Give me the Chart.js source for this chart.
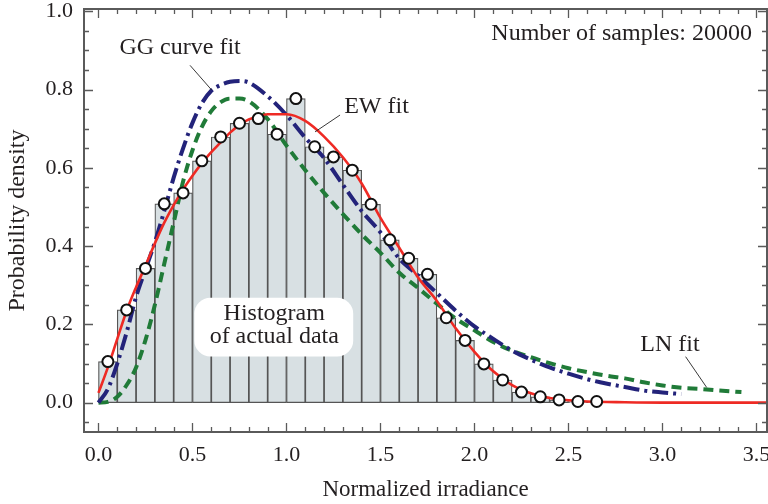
<!DOCTYPE html>
<html>
<head>
<meta charset="utf-8">
<script src="https://cdn.jsdelivr.net/npm/chart.js@4.4.0/dist/chart.umd.min.js"></script>
<style>
  html, body { margin: 0; padding: 0; background: #fff; }
</style>
</head>
<body>
<canvas id="irrChart" width="768" height="504"></canvas>
<script>
// histogram bins (centres) and heights
const binCenters = [0.05, 0.15, 0.25, 0.35, 0.45, 0.55, 0.65, 0.75, 0.85, 0.95,
  1.05, 1.15, 1.25, 1.35, 1.45, 1.55, 1.65, 1.75, 1.85, 1.95,
  2.05, 2.15, 2.25, 2.35, 2.45, 2.55, 2.65];
const binHeights = [0.105, 0.237, 0.343, 0.508, 0.536, 0.618, 0.679, 0.714, 0.726, 0.686,
  0.777, 0.654, 0.628, 0.594, 0.507, 0.416, 0.369, 0.328, 0.217, 0.159,
  0.099, 0.058, 0.027, 0.015, 0.007, 0.003, 0.003];

// EW fit (red)
const ewX = [0, 0.05, 0.1, 0.15, 0.2, 0.25, 0.3, 0.35, 0.4, 0.45, 0.5, 0.55, 0.6, 0.65, 0.7, 0.75, 0.8, 0.85, 0.9,
  1.0, 1.1, 1.2, 1.3, 1.4, 1.5, 1.6, 1.7, 1.8, 1.9, 2.0, 2.1, 2.2, 2.3, 2.4, 2.5, 2.6, 2.8, 3.0, 3.3, 3.56];
const ewY = [0.025, 0.09, 0.163, 0.235, 0.295, 0.35, 0.407, 0.46, 0.505, 0.545, 0.58, 0.612, 0.64, 0.665, 0.69, 0.71, 0.724, 0.732, 0.737,
  0.737, 0.72, 0.68, 0.627, 0.56, 0.472, 0.396, 0.32, 0.26, 0.19, 0.13, 0.08, 0.045, 0.024, 0.012, 0.006, 0.003, 0.001, 0, 0, 0];

// GG curve fit (navy)
const ggX = [0, 0.05, 0.1, 0.15, 0.2, 0.25, 0.3, 0.35, 0.4, 0.45, 0.5, 0.55, 0.6, 0.65, 0.7, 0.75, 0.8, 0.9,
  1.0, 1.1, 1.2, 1.3, 1.4, 1.5, 1.6, 1.7, 1.8, 1.9, 2.0, 2.1, 2.2, 2.3, 2.4, 2.5, 2.6, 2.7, 2.8, 2.9, 3.0, 3.1];
const ggY = [0, 0.035, 0.1, 0.18, 0.27, 0.34, 0.41, 0.49, 0.575, 0.65, 0.715, 0.765, 0.797, 0.812, 0.82, 0.822, 0.818, 0.783,
  0.735, 0.677, 0.625, 0.557, 0.49, 0.435, 0.368, 0.325, 0.28, 0.235, 0.195, 0.163, 0.133, 0.11, 0.09, 0.074, 0.06, 0.049, 0.04, 0.031, 0.026, 0.022];

// LN fit (green)
const lnX = [0, 0.05, 0.1, 0.15, 0.2, 0.25, 0.3, 0.35, 0.4, 0.45, 0.5, 0.55, 0.6, 0.65, 0.7, 0.75, 0.8, 0.9,
  1.0, 1.1, 1.2, 1.3, 1.4, 1.5, 1.6, 1.7, 1.8, 1.9, 2.0, 2.1, 2.2, 2.3, 2.4, 2.5, 2.6, 2.7, 2.8, 2.9, 3.0, 3.1, 3.2, 3.3, 3.42];
const lnY = [0, 0.002, 0.015, 0.045, 0.09, 0.16, 0.25, 0.355, 0.46, 0.565, 0.645, 0.705, 0.745, 0.768, 0.777, 0.777, 0.77, 0.725,
  0.657, 0.594, 0.536, 0.482, 0.43, 0.383, 0.332, 0.293, 0.253, 0.215, 0.185, 0.155, 0.133, 0.116, 0.101, 0.088, 0.078, 0.069, 0.062, 0.052, 0.044, 0.038, 0.035, 0.031, 0.027];

const xTickVals = [0, 0.5, 1.0, 1.5, 2.0, 2.5, 3.0, 3.5];
const yTickVals = [0, 0.2, 0.4, 0.6, 0.8, 1.0];

const serif = "'Liberation Serif', 'DejaVu Serif', serif";
const textColor = "#231f20";

const toPts = (xs, ys) => xs.map((x, i) => ({ x: x, y: ys[i] }));

// frame, inward ticks and the text notes
const framePlugin = {
  id: "frame",
  afterDatasetsDraw(chart) {
    const { ctx, chartArea: a, scales } = chart;
    const x = scales.x, y = scales.y;
    ctx.save();

    // white note box
    const bx0 = x.getPixelForValue(0.51), bx1 = x.getPixelForValue(1.355);
    const by0 = y.getPixelForValue(0.268), by1 = y.getPixelForValue(0.118);
    ctx.fillStyle = "#ffffff";
    ctx.beginPath();
    ctx.roundRect(bx0, by0, bx1 - bx0, by1 - by0, 16);
    ctx.fill();

    ctx.fillStyle = textColor;
    ctx.font = "24px " + serif;
    ctx.textAlign = "center";
    ctx.textBaseline = "middle";
    ctx.fillText("Histogram", x.getPixelForValue(0.935), y.getPixelForValue(0.228));
    ctx.fillText("of actual data", x.getPixelForValue(0.935), y.getPixelForValue(0.168));
    ctx.fillText("GG curve fit", x.getPixelForValue(0.434), y.getPixelForValue(0.906));
    ctx.fillText("EW fit", x.getPixelForValue(1.479), y.getPixelForValue(0.756));
    ctx.fillText("LN fit", x.getPixelForValue(3.04), y.getPixelForValue(0.147));
    ctx.textAlign = "right";
    ctx.fillText("Number of samples: 20000", x.getPixelForValue(3.476), y.getPixelForValue(0.944));

    // leader lines
    ctx.strokeStyle = "#222";
    ctx.lineWidth = 0.9;
    const leaders = [
      [0.487, 0.862, 0.602, 0.799],
      [1.285, 0.735, 1.152, 0.692],
      [3.123, 0.1175, 3.235, 0.039]
    ];
    leaders.forEach((l) => {
      ctx.beginPath();
      ctx.moveTo(x.getPixelForValue(l[0]), y.getPixelForValue(l[1]));
      ctx.lineTo(x.getPixelForValue(l[2]), y.getPixelForValue(l[3]));
      ctx.stroke();
    });

    // ticks
    ctx.strokeStyle = "#5a5a5a";
    ctx.lineWidth = 1.3;
    ctx.beginPath();
    for (let i = 0; i <= 35; i++) {
      const px = Math.round(x.getPixelForValue(i / 10)) + 0.5;
      const len = i % 5 === 0 ? 9 : 5;
      ctx.moveTo(px, a.bottom); ctx.lineTo(px, a.bottom - len);
      ctx.moveTo(px, a.top); ctx.lineTo(px, a.top + len);
    }
    for (let j = -1; j <= 20; j++) {
      const py = Math.round(y.getPixelForValue(j / 20)) + 0.5;
      const len = j % 4 === 0 ? 9 : 5;
      ctx.moveTo(a.left, py); ctx.lineTo(a.left + len, py);
      ctx.moveTo(a.right, py); ctx.lineTo(a.right - len, py);
    }
    ctx.stroke();

    ctx.lineWidth = 2;
    ctx.strokeRect(a.left, a.top, a.right - a.left, a.bottom - a.top);
    ctx.restore();
  }
};

const ctx = document.getElementById("irrChart").getContext("2d");

window.irrChart = new Chart(ctx, {
  type: "line",
  data: {
    datasets: [
      {
        type: "scatter",
        label: "Histogram points",
        data: toPts(binCenters, binHeights),
        pointRadius: 5.5,
        pointBackgroundColor: "#ffffff",
        pointBorderColor: "#111111",
        pointBorderWidth: 2,
        showLine: false,
        order: 0,
      },
      {
        label: "EW fit",
        data: toPts(ewX, ewY),
        borderColor: "#ee2a24",
        borderWidth: 2.6,
        pointRadius: 0,
        cubicInterpolationMode: "monotone",
        fill: false,
        order: 1,
      },
      {
        label: "GG curve fit",
        data: toPts(ggX, ggY),
        borderColor: "#23237a",
        borderWidth: 4,
        borderDash: [16, 5, 3, 5],
        pointRadius: 0,
        cubicInterpolationMode: "monotone",
        fill: false,
        order: 2,
      },
      {
        label: "LN fit",
        data: toPts(lnX, lnY),
        borderColor: "#207b38",
        borderWidth: 4,
        borderDash: [10, 6],
        pointRadius: 0,
        cubicInterpolationMode: "monotone",
        fill: false,
        order: 3,
      },
      {
        type: "bar",
        label: "Histogram",
        data: toPts(binCenters, binHeights),
        backgroundColor: "#d8e0e3",
        borderColor: "#555555",
        borderWidth: 1.2,
        borderSkipped: false,
        barPercentage: 1,
        categoryPercentage: 1,
        order: 4,
      },
    ],
  },
  options: {
    responsive: false,
    animation: false,
    layout: { padding: { top: 9, right: 1, left: 0, bottom: 0 }, autoPadding: false },
    plugins: {
      legend: { display: false },
      tooltip: { enabled: false },
    },
    scales: {
      x: {
        type: "linear",
        min: -0.077,
        max: 3.556,
        offset: false,
        afterBuildTicks: (s) => { s.ticks = xTickVals.map((v) => ({ value: v })); },
        afterFit: (s) => { s.height = 72; s.paddingLeft = 0; s.paddingRight = 0; },
        grid: { display: false, drawTicks: false },
        border: { display: false },
        ticks: {
          callback: (v) => Number(v).toFixed(1),
          font: { family: serif, size: 22 },
          color: textColor,
          padding: 10,
          maxRotation: 0,
          autoSkip: false,
        },
        title: {
          display: true,
          text: "Normalized irradiance",
          font: { family: serif, size: 23 },
          color: textColor,
          padding: 0,
        },
      },
      y: {
        type: "linear",
        min: -0.075,
        max: 1.006,
        afterBuildTicks: (s) => { s.ticks = yTickVals.map((v) => ({ value: v })); },
        afterFit: (s) => { s.width = 84; s.paddingTop = 0; s.paddingBottom = 0; },
        grid: { display: false, drawTicks: false },
        border: { display: false },
        ticks: {
          callback: (v) => Number(v).toFixed(1),
          font: { family: serif, size: 22 },
          color: textColor,
          padding: 11,
        },
        title: {
          display: true,
          text: "Probability density",
          font: { family: serif, size: 24 },
          color: textColor,
          padding: { top: 3, bottom: 0 },
        },
      },
    },
  },
  plugins: [framePlugin],
});
</script>
</body>
</html>
